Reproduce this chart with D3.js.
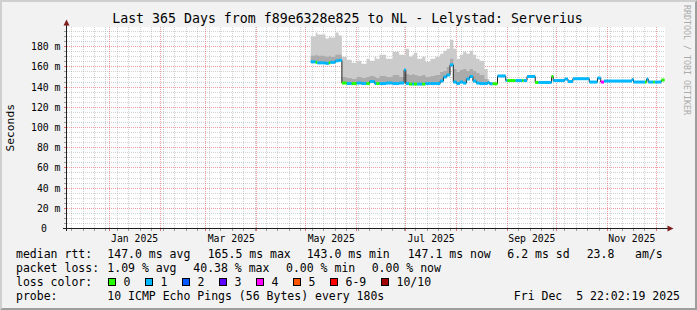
<!DOCTYPE html>
<html>
<head>
<meta charset="utf-8">
<script src="https://cdn.jsdelivr.net/npm/d3@7"></script>
<style>
body { margin: 0; background: #f2f2f2 }
svg { display: block }
text { font-family: "DejaVu Sans Mono", monospace; fill: #000 }
</style>
</head>
<body>
<svg width="697" height="310"></svg>
<script>
// Smokeping style latency chart, last 365 days

// step segments: start day, median rtt (ms), loss bucket, smoke top / mid (ms)
var segStart = ['2025-05-04','2025-05-07','2025-05-08','2025-05-13','2025-05-15','2025-05-16','2025-05-19','2025-05-21',
	'2025-05-23','2025-05-26','2025-05-29','2025-06-01','2025-06-04','2025-06-07','2025-06-09','2025-06-12','2025-06-13',
	'2025-06-15','2025-06-19','2025-06-23','2025-06-27','2025-06-30','2025-07-01','2025-07-03','2025-07-05','2025-07-06',
	'2025-07-08','2025-07-11','2025-07-13','2025-07-16','2025-07-19','2025-07-22','2025-07-24','2025-07-26','2025-07-28',
	'2025-07-30','2025-08-01','2025-08-03','2025-08-05','2025-08-07','2025-08-09','2025-08-11','2025-08-13','2025-08-15',
	'2025-08-18','2025-08-20','2025-08-21','2025-08-23','2025-08-26','2025-08-31','2025-09-01','2025-09-06','2025-09-10',
	'2025-09-11','2025-09-13','2025-09-18','2025-09-20','2025-09-28','2025-09-29','2025-10-06','2025-10-08','2025-10-11',
	'2025-10-21','2025-10-26','2025-10-28','2025-10-30','2025-11-16','2025-11-17','2025-11-24','2025-11-25','2025-11-26',
	'2025-11-29','2025-11-30','2025-12-04']
var median = [165, 164.5, 164, 163.5, 164, 164.5, 166, 166.5,
	144, 143.5, 143.5, 144, 143.5, 143.5, 145.5, 143.5, 143.5,
	143.5, 144, 143.5, 144, 157, 143.5, 143, 143, 143,
	143, 143, 143.5, 143.5, 143.5, 146, 150, 152, 162,
	145, 143.5, 145, 144, 148, 150.5, 146, 144, 143.5,
	143.5, 144.5, 143.3, 143.3, 151, 146.6, 146.5, 146.5, 146.5,
	146.5, 150.5, 144.6, 144.6, 150.5, 146.5, 148, 145.5, 148.3,
	145, 149, 145, 146, 147.5, 145, 145, 148, 145,
	145, 145, 147]
var loss = [1, 0, 1, 1, 0, 1, 1, 1,
	0, 1, 0, 1, 1, 0, 1, 1, 0,
	1, 1, 1, 1, 1, 1, 0, 1, 0,
	1, 0, 1, 1, 1, 1, 1, 1, 1,
	1, 1, 1, 1, 1, 1, 1, 1, 1,
	1, 1, 1, 0, 1, 1, 0, 1, 0,
	1, 1, 0, 1, 0, 1, 1, 1, 1,
	1, 1, 4, 1, 1, 1, 0, 1, 1,
	0, 1, 0]
var smokeTop = [190, 194, 192, 188, 190, 189, 194, 191,
	170, 167, 164, 166, 163, 168, 166, 170, 168,
	172, 168, 175, 172, 172, 178, 170, 172, 174,
	168, 170, 165, 168, 170, 173, 176, 178, 187,
	178, 168, 172, 175, 173, 176, 172, 168, 166,
	158, 148, 145]
var smokeMid = [171, 172, 171, 170, 171, 170, 172, 172,
	150, 149, 148, 150, 149, 150, 151, 150, 149,
	151, 150, 152, 150, 158, 153, 152, 153, 152,
	151, 152, 150, 151, 152, 155, 156, 160, 168,
	158, 155, 157, 158, 156, 158, 156, 154, 152,
	148, 146, 144]
var startTime = '2024-12-05 22:02:19'
var endTime = '2025-12-05 22:02:19'

var lossLabels = ['0', '1', '2', '3', '4', '5', '6-9', '10/10']
var lossColors = ['#26ff00', '#00b8ff', '#0059ff', '#5e00ff', '#ff00ff', '#ff5500', '#ff0000', '#a10000']
var yTicks = [0, 20, 40, 60, 80, 100, 120, 140, 160, 180]
var xLabels = ['Jan 2025', 'Mar 2025', 'May 2025', 'Jul 2025', 'Sep 2025', 'Nov 2025']

var svg = d3.select('svg')
var W = 697, H = 310
var parseDay = d3.timeParse('%Y-%m-%d')
var parseTime = d3.timeParse('%Y-%m-%d %H:%M:%S')
var t0 = parseTime(startTime), t1 = parseTime(endTime)

var x = d3.scaleTime().domain([t0, t1]).range([66.5, 664.5])
var y = d3.scaleLinear().domain([0, 200]).range([228.5, 26.5])
function snap(v) { return Math.round(v - 0.5) + 0.5 }

var gridCol = 'rgba(143,143,143,0.4)', mgridCol = 'rgba(222,79,79,0.55)'

// background + 3d frame
svg.append('rect').attr('width', W).attr('height', H).attr('fill', '#f2f2f2')
svg.append('polygon').attr('points', '0,0 697,0 695,2 2,2 2,308 0,310').attr('fill', '#cfcfcf')
svg.append('polygon').attr('points', '697,0 697,310 0,310 2,308 695,308 695,2').attr('fill', '#9e9e9e')

// canvas
svg.append('rect').attr('x', 67).attr('y', 27).attr('width', 598).attr('height', 201).attr('fill', '#fff')

var grid = svg.append('g')
// minor grid
var minorY = d3.range(5, 200, 5).filter(function(v) { return v % 20 != 0 })
grid.selectAll('.ym').data(minorY).enter().append('line')
	.attr('x1', 67).attr('x2', 665)
	.attr('y1', function(d) { return snap(y(d)) }).attr('y2', function(d) { return snap(y(d)) })
	.attr('stroke', gridCol).attr('stroke-dasharray', '1,1')
var weeks = d3.timeMonday.range(t0, t1).filter(function(d) { return d.getDate() != 1 })
grid.selectAll('.xm').data(weeks).enter().append('line')
	.attr('x1', function(d) { return snap(x(d)) }).attr('x2', function(d) { return snap(x(d)) })
	.attr('y1', 27).attr('y2', 228)
	.attr('stroke', gridCol).attr('stroke-dasharray', '1,1')
// major grid
grid.selectAll('.yM').data(yTicks.slice(1)).enter().append('line')
	.attr('x1', 67).attr('x2', 665)
	.attr('y1', function(d) { return snap(y(d)) }).attr('y2', function(d) { return snap(y(d)) })
	.attr('stroke', mgridCol).attr('stroke-dasharray', '1,1')
var months = d3.timeMonth.range(t0, t1)
grid.selectAll('.xM').data(months).enter().append('line')
	.attr('x1', function(d) { return snap(x(d)) }).attr('x2', function(d) { return snap(x(d)) })
	.attr('y1', 27).attr('y2', 228)
	.attr('stroke', mgridCol).attr('stroke-dasharray', '1,1')

// ticks
grid.selectAll('.yt').data(d3.range(0, 200, 5)).enter().append('line')
	.attr('x1', 64).attr('x2', 67)
	.attr('y1', function(d) { return snap(y(d)) }).attr('y2', function(d) { return snap(y(d)) })
	.attr('stroke', function(d) { return d % 20 == 0 ? 'rgba(222,79,79,0.8)' : 'rgba(100,100,100,0.6)' })
grid.selectAll('.xt').data(weeks.concat(months)).enter().append('line')
	.attr('x1', function(d) { return snap(x(d)) }).attr('x2', function(d) { return snap(x(d)) })
	.attr('y1', 229).attr('y2', 231)
	.attr('stroke', function(d) { return d.getDate() == 1 ? 'rgba(222,79,79,0.8)' : 'rgba(100,100,100,0.6)' })

// data segments
var segs = segStart.map(function(s, i) {
	return {
		t: parseDay(s),
		t2: i < segStart.length - 1 ? parseDay(segStart[i + 1]) : t1,
		med: median[i], loss: loss[i],
		top: i < smokeTop.length ? smokeTop[i] : null,
		mid: i < smokeMid.length ? smokeMid[i] : null
	}
})
var stepPts = segs.concat([{ t: t1, med: median[median.length - 1], top: null, mid: null }])
var smokePts = segs.slice(0, smokeTop.length)
smokePts = smokePts.concat([{ t: segs[smokeTop.length].t, med: smokePts[smokePts.length - 1].med,
	top: smokeTop[smokeTop.length - 1], mid: smokeMid[smokeMid.length - 1] }])

var plot = svg.append('g')
plot.append('path').datum(smokePts)
	.attr('d', d3.area().curve(d3.curveStepAfter)
		.x(function(d) { return x(d.t) })
		.y0(function(d) { return y(d.med) })
		.y1(function(d) { return y(d.top) }))
	.attr('fill', '#cbcbcb')
plot.append('path').datum(smokePts)
	.attr('d', d3.area().curve(d3.curveStepAfter)
		.x(function(d) { return x(d.t) })
		.y0(function(d) { return y(d.med) })
		.y1(function(d) { return y(d.mid) }))
	.attr('fill', '#ababab')

plot.append('path').datum(stepPts)
	.attr('d', d3.line().curve(d3.curveStepAfter)
		.x(function(d) { return x(d.t) })
		.y(function(d) { return y(d.med) }))
	.attr('fill', 'none').attr('stroke', '#202020').attr('stroke-width', 1)

plot.selectAll('.band').data(segs).enter().append('rect')
	.attr('x', function(d) { return x(d.t) })
	.attr('width', function(d) { return x(d.t2) - x(d.t) })
	.attr('y', function(d) { return y(d.med) - 1.5 })
	.attr('height', 3)
	.attr('fill', function(d) { return lossColors[d.loss] })

// axes
var axisCol = '#1f1f1f', arrowCol = '#801f1f'
svg.append('line').attr('x1', 66.5).attr('x2', 66.5).attr('y1', 231).attr('y2', 24).attr('stroke', axisCol)
svg.append('line').attr('x1', 63).attr('x2', 669).attr('y1', 228.5).attr('y2', 228.5).attr('stroke', axisCol)
svg.append('polygon').attr('points', '66.5,19.5 63.5,25.5 69.5,25.5').attr('fill', arrowCol)
svg.append('polygon').attr('points', '673.5,228.5 667.5,225.5 667.5,231.5').attr('fill', arrowCol)

// axis labels
svg.selectAll('.yl').data(yTicks).enter().append('text')
	.attr('x', function(d) { return d == 0 ? 47 : 60.5 })
	.attr('y', function(d) { return snap(y(d)) + 3.5 })
	.attr('text-anchor', 'end').style('font-size', '9.8px')
	.text(function(d) { return d == 0 ? '0' : d + ' m' })

var labelMonths = xLabels.map(function(s) { return d3.timeParse('%b %Y')(s) })
svg.selectAll('.xl').data(labelMonths).enter().append('text')
	.attr('x', function(d) { return (x(d) + x(d3.timeMonth.offset(d, 1))) / 2 })
	.attr('y', 241.5)
	.attr('text-anchor', 'middle').style('font-size', '9.8px')
	.text(function(d, i) { return xLabels[i] })

svg.append('text').attr('transform', 'translate(14,127.8) rotate(-90)')
	.attr('text-anchor', 'middle').style('font-size', '11.3px').text('Seconds')

svg.append('text').attr('x', 347.5).attr('y', 23.3).attr('text-anchor', 'middle')
	.style('font-size', '13.25px')
	.text('Last 365 Days from f89e6328e825 to NL - Lelystad: Serverius')

svg.append('text').attr('transform', 'translate(683.6,5) rotate(90)')
	.style('font-size', '8.3px').style('fill', '#ababab')
	.text('RRDTOOL / TOBI OETIKER')

// legend
var leg = svg.append('g').style('font-size', '11.5px')
var legRows = [
	[[16, 'median rtt:'], [107.3, '147.0 ms avg'], [207.7, '165.5 ms max'], [306.7, '143.0 ms min'],
		[407.7, '147.1 ms now'], [507.3, '6.2 ms sd'], [586.7, '23.8'], [635, 'am/s']],
	[[16, 'packet loss:'], [107.3, '1.09 % avg'], [193.3, '40.38 % max'], [286, '0.00 % min'], [371.7, '0.00 % now']],
	[[16, 'loss color:']],
	[[16, 'probe:'], [107.3, '10 ICMP Echo Pings (56 Bytes) every 180s']]
]
legRows.forEach(function(row, r) {
	leg.selectAll('.r' + r).data(row).enter().append('text')
		.attr('x', function(d) { return d[0] }).attr('y', 258.3 + r * 13.9)
		.text(function(d) { return d[1] })
})
leg.append('text').attr('x', 680).attr('y', 258.3 + 3 * 13.9).attr('text-anchor', 'end')
	.attr('xml:space', 'preserve').style('white-space', 'pre')
	.text('Fri Dec  5 22:02:19 2025')

var boxX = lossLabels.map(function(l, i) { return i < 7 ? 108.5 + 37 * i : 381.5 })
leg.selectAll('.box').data(lossLabels).enter().append('rect')
	.attr('x', function(d, i) { return boxX[i] }).attr('y', 278.5)
	.attr('width', 7).attr('height', 7)
	.attr('fill', function(d, i) { return lossColors[i] })
	.attr('stroke', '#000').attr('stroke-width', 1)
leg.selectAll('.bl').data(lossLabels).enter().append('text')
	.attr('x', function(d, i) { return boxX[i] + 15 }).attr('y', 258.3 + 2 * 13.9)
	.text(function(d) { return d })
</script>
</body>
</html>
